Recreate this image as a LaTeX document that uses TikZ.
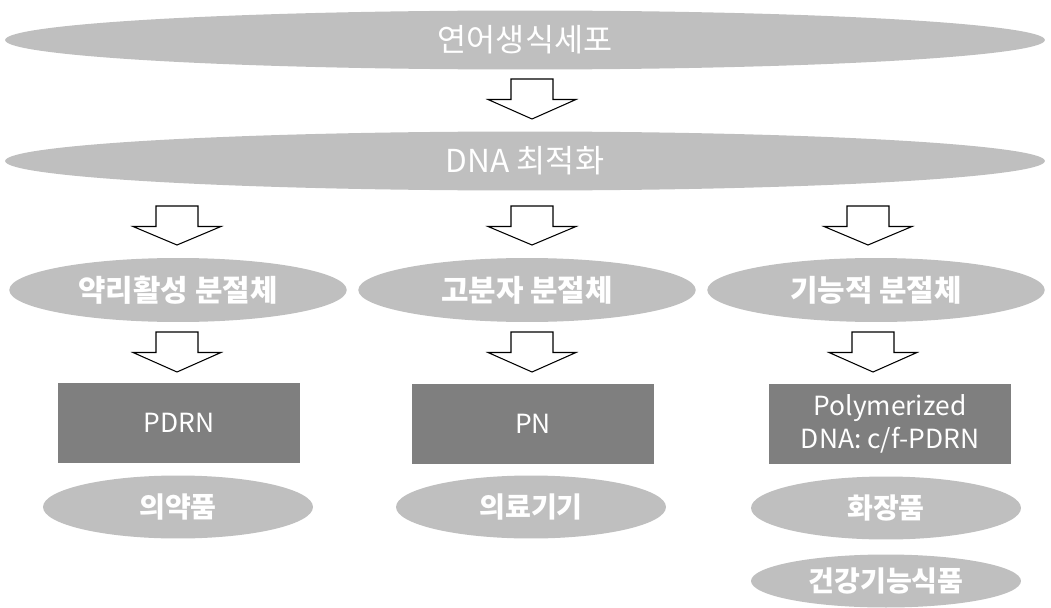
\documentclass[tikz,border=0pt]{standalone}
\usepackage{fontspec}
\setmainfont{Noto Sans CJK KR}
\usepackage{tikz}
\usetikzlibrary{shapes.geometric,calc}

\definecolor{lightgr}{RGB}{191,191,191}
\definecolor{darkgr}{RGB}{127,127,127}

% hollow block arrow from (#1) down to tip (#2)
\newcommand{\blockarrow}[2]{%
	\draw[hollowarrow] ($(#1)+(-0.42cm,0)$) -- ($(#1)+(0.42cm,0)$) -- ($(#1)+(0.42cm,-0.41cm)$) -- ($(#1)+(0.88cm,-0.41cm)$) -- (#2) -- ($(#1)+(-0.88cm,-0.41cm)$) -- ($(#1)+(-0.42cm,-0.41cm)$) -- cycle;}

\begin{document}
\begin{tikzpicture}[x=0.02cm,y=-0.02cm,
	bigoval/.style={ellipse, fill=lightgr, text=white, inner sep=0pt, minimum width=20.8cm, minimum height=1.18cm, font=\fontsize{18}{21}\selectfont},
	midoval/.style={ellipse, fill=lightgr, text=white, inner sep=0pt, minimum width=6.75cm, minimum height=1.28cm, font=\fontsize{17}{20}\selectfont\bfseries},
	lowoval/.style={ellipse, fill=lightgr, text=white, inner sep=0pt, minimum width=5.4cm, minimum height=1.26cm, font=\fontsize{16}{19}\selectfont\bfseries},
	prodbox/.style={rectangle, fill=darkgr, text=white, inner sep=0pt, minimum width=4.84cm, minimum height=1.62cm, align=center, font=\fontsize{15}{18.5}\selectfont},
	hollowarrow/.style={draw=black, fill=white, line width=0.6pt, line join=miter}]

	\useasboundingbox (0,0) rectangle (1051,608);

	\node (cell)[bigoval] at (525,40) {연어생식세포};
	\node (dna)[bigoval] at (525,161) {DNA 최적화};

	\node (frag1)[midoval] at (178,290) {약리활성 분절체};
	\node (frag2)[midoval] at (527,290) {고분자 분절체};
	\node (frag3)[midoval] at (876,290) {기능적 분절체};

	\node (pdrn)[prodbox] at (179,423) {PDRN};
	\node (pn)[prodbox] at (533,424) {PN};
	\node (poly)[prodbox] at (890,424) {Polymerized\\DNA: c/f-PDRN};

	\node (drug)[lowoval] at (178,507) {의약품};
	\node (device)[lowoval] at (531,507) {의료기기};
	\node (cosm)[lowoval] at (886,508) {화장품};
	\node (food)[lowoval, minimum height=1.06cm] at (886,581) {건강기능식품};

	\coordinate (A0s) at (532,79);
	\coordinate (A0e) at (532,119);
	\coordinate (A1s) at (177,206);
	\coordinate (A1e) at (177,245);
	\coordinate (A2s) at (532,206);
	\coordinate (A2e) at (532,245);
	\coordinate (A3s) at (868,206);
	\coordinate (A3e) at (868,245);
	\coordinate (B1s) at (177,332);
	\coordinate (B1e) at (177,372);
	\coordinate (B2s) at (532,332);
	\coordinate (B2e) at (532,372);
	\coordinate (B3s) at (873,332);
	\coordinate (B3e) at (873,372);

	\blockarrow{A0s}{A0e}
	\blockarrow{A1s}{A1e}
	\blockarrow{A2s}{A2e}
	\blockarrow{A3s}{A3e}
	\blockarrow{B1s}{B1e}
	\blockarrow{B2s}{B2e}
	\blockarrow{B3s}{B3e}

\end{tikzpicture}
\end{document}
